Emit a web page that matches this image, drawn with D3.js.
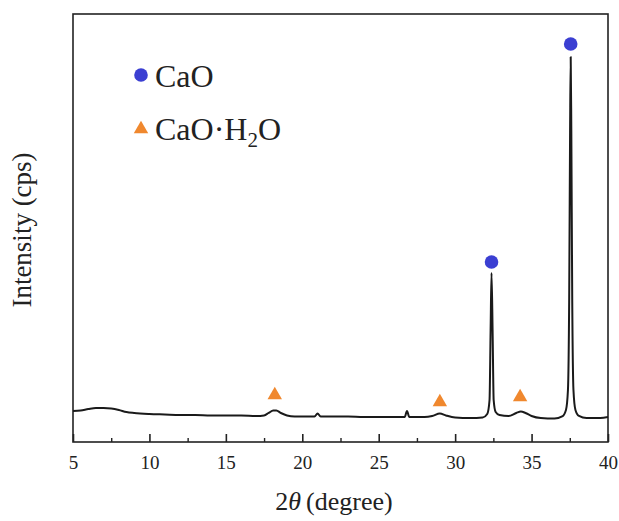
<!DOCTYPE html>
<html>
<head>
<meta charset="utf-8">
<script src="https://cdn.jsdelivr.net/npm/d3@7"></script>
<style>
  html, body { margin: 0; padding: 0; background: #fff; }
  svg { display: block; }
  text { font-family: "Liberation Serif", "Times New Roman", serif; fill: #222; }
</style>
</head>
<body>
<svg id="chart" width="619" height="521"></svg>
<script>
// ---- Data ----
const twoTheta = [5.0, 5.5, 6.0, 6.5, 7.0, 7.5, 8.0, 8.5, 9.0, 10, 11, 12, 13, 14, 15, 16, 17, 17.5, 17.8, 18.1, 18.3, 18.6, 19.0, 19.5, 20, 20.8, 21.0, 21.2, 22, 23, 24, 25, 26, 26.7, 26.85, 27.0, 27.5, 28, 28.5, 29.0, 29.4, 30, 31, 31.8, 32.1, 32.25, 32.32, 32.38, 32.45, 32.52, 32.65, 32.9, 33.5, 34.0, 34.3, 34.6, 35.0, 35.6, 36.5, 37.0, 37.25, 37.38, 37.46, 37.52, 37.56, 37.6, 37.66, 37.74, 37.87, 38.1, 38.6, 39.5, 40];
const intensity = [362, 368, 385, 397, 397, 391, 374, 350, 339, 327, 321, 315, 315, 310, 310, 310, 304, 310, 339, 368, 368, 339, 310, 298, 298, 298, 333, 298, 298, 298, 292, 292, 292, 292, 362, 292, 292, 292, 304, 333, 310, 286, 280, 286, 327, 491, 1308, 1974, 1308, 491, 350, 315, 304, 339, 356, 339, 304, 280, 274, 298, 374, 607, 1659, 3644, 4498, 3644, 1659, 607, 374, 304, 280, 280, 292];

const caoPeaks = [32.38, 37.56];
const caoMarkY = [2103, 4650];
const hydPeaks = [18.2, 29.0, 34.25];
const hydMarkY = [549, 467, 526];

const xTicks = [5, 10, 15, 20, 25, 30, 35, 40];
const xMinorTicks = [7.5, 12.5, 17.5, 22.5, 27.5, 32.5, 37.5];
const legendLabels = ["CaO", "CaO·H₂O"];

// ---- Layout ----
const svg = d3.select("#chart");
const L = 73, R = 608, T = 14, B = 442;
const x = d3.scaleLinear().domain([5, 40]).range([L, R]);
const y = d3.scaleLinear().domain([0, 5000]).range([B, T]);

const blue = "#3b3fd2";
const orange = "#f0882e";

// Frame
svg.append("rect").attr("x", L).attr("y", T).attr("width", R - L).attr("height", B - T)
  .attr("fill", "none").attr("stroke", "#222").attr("stroke-width", 1.6);

// Bottom axis (ticks inward)
const xAxis = d3.axisBottom(x).tickValues(xTicks).tickSizeInner(-8).tickSizeOuter(0).tickPadding(14).tickFormat(d3.format("d"));
const gx = svg.append("g").attr("transform", `translate(0,${B})`).call(xAxis);
gx.select(".domain").remove();
gx.selectAll(".tick line").attr("stroke", "#222").attr("stroke-width", 1.6);
gx.selectAll(".tick text").attr("font-size", 19).attr("font-family", "Liberation Serif").attr("fill", "#333");
const xAxisMinor = d3.axisBottom(x).tickValues(xMinorTicks).tickSizeInner(-4).tickSizeOuter(0).tickFormat("");
const gxm = svg.append("g").attr("transform", `translate(0,${B})`).call(xAxisMinor);
gxm.select(".domain").remove();
gxm.selectAll(".tick line").attr("stroke", "#222").attr("stroke-width", 1.4);

// Pattern line
const line = d3.line().x((d, i) => x(twoTheta[i])).y((d) => y(d)).curve(d3.curveMonotoneX);
svg.append("path").datum(intensity).attr("d", line)
  .attr("fill", "none").attr("stroke", "#1a1a1a").attr("stroke-width", 2).attr("stroke-linejoin", "round");

// Markers
svg.selectAll("circle.cao").data(caoPeaks).join("circle").attr("class", "cao")
  .attr("cx", d => x(d)).attr("cy", (d, i) => y(caoMarkY[i])).attr("r", 6.8).attr("fill", blue);
const tri = d3.symbol().type(d3.symbolTriangle).size(90);
svg.selectAll("path.hyd").data(hydPeaks).join("path").attr("class", "hyd")
  .attr("d", tri).attr("transform", (d, i) => `translate(${x(d)},${y(hydMarkY[i])})`).attr("fill", orange);

// Legend
svg.append("circle").attr("cx", 141).attr("cy", 75).attr("r", 6.8).attr("fill", blue);
svg.append("path").attr("d", tri).attr("transform", "translate(141,129)").attr("fill", orange);
svg.append("text").attr("x", 155).attr("y", 87).attr("font-size", 32).text(legendLabels[0]);
const t2 = svg.append("text").attr("x", 155).attr("y", 140).attr("font-size", 32);
t2.append("tspan").text("CaO·H");
t2.append("tspan").attr("font-size", 21).attr("dy", 7).text("2");
t2.append("tspan").attr("dy", -7).text("O");

// Axis titles
const xt = svg.append("text").attr("x", 334).attr("y", 510).attr("text-anchor", "middle").attr("font-size", 26);
xt.append("tspan").text("2");
xt.append("tspan").attr("font-style", "italic").text("θ");
xt.append("tspan").attr("dx", 5).text("(degree)");
svg.append("text").attr("transform", "translate(31,230) rotate(-90)").attr("text-anchor", "middle")
  .attr("font-size", 27).text("Intensity (cps)");
</script>
</body>
</html>
